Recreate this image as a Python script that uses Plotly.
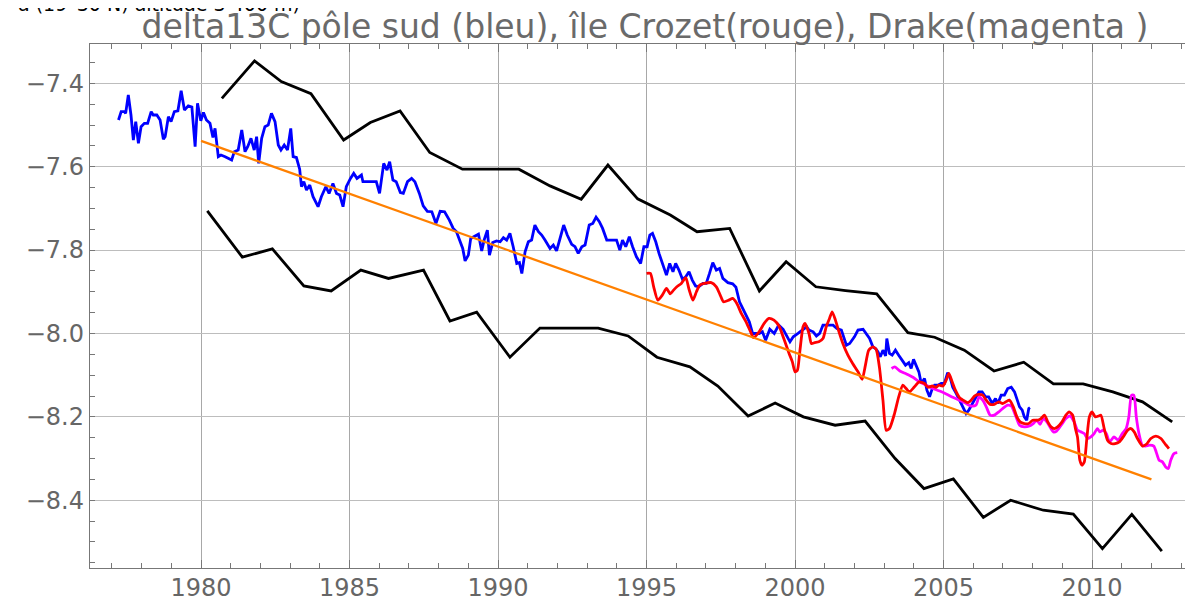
import plotly.graph_objects as go

# ---------------- data ----------------
blue_years = [1977.22,1977.31,1977.42,1977.46,1977.55,1977.64,1977.72,1977.80,1977.89,1977.98,
1978.09,1978.20,1978.32,1978.39,1978.51,1978.62,1978.73,1978.79,1978.90,1978.99,
1979.10,1979.22,1979.33,1979.44,1979.57,1979.69,1979.80,1979.88,1979.99,1980.08,
1980.18,1980.30,1980.40,1980.47,1980.58,1980.67,1980.81,1980.94,1981.03,1981.12,
1981.25,1981.37,1981.48,1981.57,1981.68,1981.79,1981.87,1981.94,1982.04,1982.15,
1982.26,1982.37,1982.49,1982.60,1982.69,1982.80,1982.91,1983.02,1983.10,1983.21,
1983.32,1983.38,1983.46,1983.55,1983.66,1983.77,1983.94,1984.05,1984.20,1984.31,
1984.44,1984.56,1984.67,1984.78,1984.89,1985.03,1985.14,1985.25,1985.40,1985.45,
1985.68,1985.90,1986.01,1986.15,1986.26,1986.35,1986.46,1986.57,1986.71,1986.81,
1986.95,1987.09,1987.20,1987.35,1987.48,1987.62,1987.77,1987.91,1988.05,1988.20,
1988.36,1988.49,1988.60,1988.72,1988.81,1988.89,1989.00,1989.08,1989.19,1989.34,
1989.45,1989.53,1989.64,1989.71,1989.82,1989.95,1990.07,1990.18,1990.29,1990.40,
1990.51,1990.63,1990.72,1990.80,1990.91,1991.02,1991.13,1991.24,1991.36,1991.47,
1991.58,1991.75,1991.86,1991.97,1992.08,1992.21,1992.33,1992.48,1992.59,1992.70,
1992.82,1992.93,1993.07,1993.19,1993.30,1993.41,1993.52,1993.66,1993.83,1993.99,
1994.10,1994.19,1994.30,1994.42,1994.53,1994.66,1994.80,1994.91,1995.02,1995.11,
1995.20,1995.31,1995.42,1995.54,1995.67,1995.78,1995.89,1995.98,1996.09,1996.21,
1996.32,1996.43,1996.54,1996.65,1996.76,1996.90,1997.01,1997.12,1997.23,1997.35,
1997.46,1997.57,1997.74,1997.90,1998.01,1998.13,1998.24,1998.35,1998.46,1998.57,
1998.79,1998.90,1999.01,1999.15,1999.30,1999.45,1999.60,1999.83,1999.94,2000.10,
2000.27,2000.39,2000.47,2000.61,2000.72,2000.83,2000.94,2001.28,2001.41,2001.56,
2001.73,2001.84,2002.00,2002.12,2002.29,2002.40,2002.51,2002.62,2002.71,2002.79,
2002.87,2002.96,2003.05,2003.09,2003.18,2003.27,2003.38,2003.49,2003.61,2003.72,
2003.83,2003.91,2003.99,2004.08,2004.17,2004.25,2004.36,2004.44,2004.53,2004.62,
2004.70,2004.81,2004.92,2005.03,2005.14,2005.23,2005.31,2005.43,2005.54,2005.65,
2005.76,2005.85,2005.97,2006.08,2006.19,2006.30,2006.41,2006.52,2006.64,2006.75,
2006.83,2006.94,2007.05,2007.16,2007.28,2007.39,2007.47,2007.56,2007.65,2007.72,
2007.80,2007.87,2007.91]
blue_values = [-7.488,-7.468,-7.468,-7.472,-7.428,-7.476,-7.536,-7.492,-7.544,-7.504,
-7.496,-7.496,-7.468,-7.476,-7.476,-7.488,-7.534,-7.528,-7.480,-7.492,
-7.468,-7.466,-7.418,-7.464,-7.454,-7.457,-7.552,-7.448,-7.490,-7.470,
-7.488,-7.496,-7.530,-7.508,-7.576,-7.572,-7.576,-7.580,-7.584,-7.564,
-7.560,-7.512,-7.564,-7.552,-7.532,-7.560,-7.528,-7.592,-7.532,-7.504,
-7.500,-7.472,-7.492,-7.548,-7.560,-7.548,-7.560,-7.508,-7.576,-7.578,
-7.606,-7.648,-7.636,-7.656,-7.644,-7.672,-7.696,-7.672,-7.648,-7.664,
-7.640,-7.664,-7.668,-7.696,-7.648,-7.628,-7.616,-7.628,-7.620,-7.636,
-7.636,-7.636,-7.664,-7.592,-7.608,-7.588,-7.632,-7.636,-7.662,-7.664,
-7.636,-7.628,-7.636,-7.664,-7.694,-7.707,-7.708,-7.736,-7.707,-7.708,
-7.728,-7.748,-7.756,-7.780,-7.796,-7.826,-7.812,-7.772,-7.768,-7.762,
-7.802,-7.776,-7.752,-7.812,-7.782,-7.778,-7.780,-7.770,-7.776,-7.760,
-7.792,-7.832,-7.830,-7.856,-7.804,-7.780,-7.776,-7.740,-7.756,-7.764,
-7.776,-7.796,-7.788,-7.802,-7.774,-7.740,-7.764,-7.786,-7.792,-7.808,
-7.792,-7.788,-7.740,-7.736,-7.721,-7.732,-7.748,-7.776,-7.776,-7.776,
-7.800,-7.776,-7.792,-7.768,-7.792,-7.816,-7.832,-7.792,-7.792,-7.764,
-7.760,-7.780,-7.808,-7.832,-7.860,-7.832,-7.852,-7.832,-7.848,-7.870,
-7.864,-7.852,-7.872,-7.886,-7.888,-7.880,-7.880,-7.856,-7.830,-7.848,
-7.844,-7.868,-7.878,-7.881,-7.889,-7.924,-7.940,-7.952,-7.972,-8.000,
-8.000,-7.996,-8.016,-7.990,-8.000,-7.980,-7.990,-8.020,-8.008,-8.000,
-7.990,-7.984,-7.992,-7.996,-8.006,-8.000,-7.980,-7.980,-7.988,-7.992,
-8.028,-8.024,-8.008,-7.992,-7.990,-8.000,-8.012,-8.032,-8.036,-8.044,
-8.056,-8.040,-8.054,-8.012,-8.048,-8.052,-8.040,-8.052,-8.064,-8.076,
-8.070,-8.084,-8.062,-8.076,-8.092,-8.120,-8.108,-8.136,-8.152,-8.132,
-8.124,-8.124,-8.120,-8.120,-8.094,-8.108,-8.129,-8.144,-8.160,-8.172,
-8.192,-8.184,-8.168,-8.152,-8.140,-8.140,-8.152,-8.152,-8.168,-8.156,
-8.168,-8.148,-8.148,-8.132,-8.129,-8.140,-8.160,-8.176,-8.184,-8.200,
-8.208,-8.180,-8.178]

red_years = [1995.00,1995.13,1995.24,1995.38,1995.53,1995.67,1995.80,1995.91,1996.02,1996.17,
1996.32,1996.43,1996.56,1996.68,1996.79,1996.95,1997.18,1997.35,1997.48,1997.59,
1997.77,1997.90,1998.04,1998.19,1998.35,1998.49,1998.60,1998.79,1998.96,1999.12,
1999.29,1999.46,1999.63,1999.80,1999.91,2000.00,2000.08,2000.16,2000.27,2000.34,
2000.47,2000.55,2000.66,2000.80,2000.94,2001.05,2001.16,2001.25,2001.36,2001.48,
2001.61,2001.78,2001.94,2002.12,2002.26,2002.37,2002.48,2002.62,2002.73,2002.84,
2002.96,2003.07,2003.18,2003.35,2003.49,2003.63,2003.74,2003.85,2004.02,2004.18,
2004.36,2004.47,2004.62,2004.75,2004.84,2004.98,2005.09,2005.18,2005.29,2005.40,
2005.54,2005.71,2005.82,2005.93,2006.04,2006.19,2006.32,2006.44,2006.57,2006.71,
2006.86,2006.99,2007.10,2007.22,2007.35,2007.47,2007.58,2007.72,2007.87,2008.00,
2008.17,2008.28,2008.40,2008.51,2008.62,2008.73,2008.84,2008.99,2009.12,2009.23,
2009.35,2009.44,2009.51,2009.59,2009.66,2009.74,2009.82,2009.91,2010.00,2010.11,
2010.22,2010.30,2010.41,2010.52,2010.64,2010.78,2010.92,2011.05,2011.20,2011.31,
2011.42,2011.53,2011.70,2011.84,2011.98,2012.15,2012.32,2012.46,2012.59]
red_values = [-7.856,-7.856,-7.888,-7.920,-7.908,-7.892,-7.905,-7.896,-7.888,-7.880,
-7.866,-7.894,-7.920,-7.900,-7.884,-7.880,-7.878,-7.888,-7.908,-7.924,
-7.920,-7.916,-7.928,-7.952,-7.972,-7.994,-8.010,-7.996,-7.976,-7.964,
-7.968,-7.982,-8.014,-8.048,-8.068,-8.092,-8.088,-8.044,-7.984,-7.976,
-8.000,-8.024,-8.022,-8.020,-8.012,-7.984,-7.964,-7.948,-7.968,-7.996,
-8.024,-8.052,-8.072,-8.092,-8.110,-8.076,-8.040,-8.032,-8.038,-8.080,
-8.160,-8.232,-8.228,-8.192,-8.152,-8.124,-8.132,-8.140,-8.128,-8.116,
-8.120,-8.129,-8.126,-8.129,-8.124,-8.126,-8.112,-8.096,-8.116,-8.136,
-8.154,-8.162,-8.166,-8.160,-8.150,-8.146,-8.148,-8.160,-8.170,-8.170,
-8.164,-8.168,-8.164,-8.160,-8.176,-8.200,-8.212,-8.216,-8.216,-8.208,
-8.208,-8.204,-8.196,-8.212,-8.224,-8.228,-8.224,-8.212,-8.196,-8.188,
-8.196,-8.228,-8.248,-8.304,-8.316,-8.308,-8.256,-8.200,-8.188,-8.200,
-8.198,-8.196,-8.228,-8.256,-8.264,-8.264,-8.260,-8.248,-8.232,-8.228,
-8.236,-8.252,-8.270,-8.265,-8.252,-8.246,-8.252,-8.265,-8.276]

magenta_years = [2003.25,2003.36,2003.53,2003.75,2003.97,2004.19,2004.42,2004.64,2004.87,2005.09,
2005.31,2005.54,2005.76,2005.93,2006.09,2006.20,2006.32,2006.44,2006.57,2006.71,
2006.86,2006.99,2007.16,2007.28,2007.42,2007.56,2007.72,2007.89,2008.02,2008.14,
2008.25,2008.36,2008.48,2008.59,2008.70,2008.81,2008.96,2009.12,2009.26,2009.40,
2009.51,2009.63,2009.74,2009.85,2009.96,2010.07,2010.18,2010.26,2010.37,2010.48,
2010.59,2010.74,2010.88,2011.02,2011.15,2011.24,2011.33,2011.41,2011.49,2011.58,
2011.69,2011.80,2011.94,2012.08,2012.16,2012.26,2012.37,2012.48,2012.57,2012.65,
2012.76,2012.87]
magenta_values = [-8.084,-8.080,-8.090,-8.097,-8.105,-8.116,-8.124,-8.132,-8.138,-8.145,
-8.153,-8.160,-8.168,-8.174,-8.172,-8.152,-8.160,-8.176,-8.196,-8.196,
-8.188,-8.180,-8.172,-8.174,-8.196,-8.220,-8.224,-8.222,-8.216,-8.208,
-8.218,-8.204,-8.212,-8.225,-8.236,-8.234,-8.220,-8.204,-8.198,-8.212,
-8.232,-8.236,-8.240,-8.252,-8.248,-8.240,-8.228,-8.236,-8.232,-8.240,
-8.260,-8.248,-8.256,-8.240,-8.228,-8.200,-8.148,-8.148,-8.200,-8.240,
-8.268,-8.270,-8.268,-8.270,-8.284,-8.304,-8.308,-8.320,-8.324,-8.304,
-8.288,-8.286]

upper_years = [1980.7,1981.8,1982.7,1983.7,1984.8,1985.7,1986.7,1987.7,1988.8,1989.7,
1990.7,1991.75,1992.8,1993.7,1994.7,1995.8,1996.7,1997.8,1998.8,1999.7,
2000.7,2001.7,2002.75,2003.8,2004.7,2005.7,2006.7,2007.7,2008.7,2009.7,
2010.7,2011.7,2012.7]
upper_values = [-7.436,-7.346,-7.396,-7.425,-7.536,-7.494,-7.466,-7.566,-7.606,-7.606,
-7.606,-7.646,-7.678,-7.596,-7.677,-7.716,-7.756,-7.748,-7.898,-7.828,
-7.888,-7.897,-7.905,-7.998,-8.009,-8.040,-8.090,-8.069,-8.121,-8.121,
-8.140,-8.164,-8.212]

lower_years = [1980.21,1981.39,1982.40,1983.46,1984.38,1985.38,1986.31,1987.49,1988.38,1989.28,
1990.40,1991.41,1992.40,1993.37,1994.38,1995.35,1996.46,1997.40,1998.42,1999.33,
2000.28,2001.35,2002.36,2003.37,2004.34,2005.33,2006.34,2007.26,2008.36,2009.37,
2010.35,2011.34,2012.35]
lower_values = [-7.706,-7.817,-7.797,-7.886,-7.898,-7.848,-7.868,-7.848,-7.970,-7.949,
-8.057,-7.987,-7.987,-7.987,-8.006,-8.057,-8.080,-8.126,-8.198,-8.167,
-8.200,-8.220,-8.210,-8.300,-8.372,-8.349,-8.441,-8.400,-8.424,-8.433,
-8.516,-8.434,-8.522]

trend_years = [1980.0, 2012.0]
trend_values = [-7.538, -8.350]

x_tick_vals = [1980, 1985, 1990, 1995, 2000, 2005, 2010]
y_tick_vals = [-8.4, -8.2, -8.0, -7.8, -7.6, -7.4]
y_tick_text = ["\u22128.4", "\u22128.2", "\u22128.0", "\u22127.8", "\u22127.6", "\u22127.4"]

title_text = "delta13C pôle sud (bleu), île Crozet(rouge), Drake(magenta )"
corner_text = "a (19–30 N) altitude 3 400 m)"

# ---------------- figure ----------------
# The page body has an 8px default margin, so the figure is sized to fit
# the 1193x601 window exactly from that offset.
FONT = "DejaVu Sans, Liberation Sans, Arial, sans-serif"
FIG_W, FIG_H = 1185, 593

fig = go.Figure()
fig.add_trace(go.Scatter(x=upper_years, y=upper_values, mode="lines",
                         line=dict(color="black", width=2.8)))
fig.add_trace(go.Scatter(x=lower_years, y=lower_values, mode="lines",
                         line=dict(color="black", width=2.8)))
fig.add_trace(go.Scatter(x=blue_years, y=blue_values, mode="lines",
                         line=dict(color="#0000FF", width=2.8)))
fig.add_trace(go.Scatter(x=magenta_years, y=magenta_values, mode="lines",
                         line=dict(color="#FF00FF", width=2.8, shape="spline", smoothing=0.6)))
fig.add_trace(go.Scatter(x=red_years, y=red_values, mode="lines",
                         line=dict(color="#FF0000", width=2.8, shape="spline", smoothing=0.6)))
fig.add_trace(go.Scatter(x=trend_years, y=trend_values, mode="lines",
                         line=dict(color="#FF8000", width=2.3)))

axis_font = dict(family=FONT, size=24, color="#666666")

fig.update_layout(
    width=FIG_W, height=FIG_H,
    margin=dict(l=82, r=0, t=36, b=33, autoexpand=False),
    paper_bgcolor="white", plot_bgcolor="white",
    showlegend=False,
    title=dict(text=title_text, x=637 / FIG_W, xref="container", xanchor="center",
               y=1 - 18 / FIG_H, yref="container", yanchor="middle",
               font=dict(family=FONT, size=33, color="#6a6a6a")),
    xaxis=dict(range=[1976.26, 2013.40], tickvals=x_tick_vals, automargin=False,
               ticks="inside", ticklen=8, tickwidth=1.3, tickcolor="#777777",
               showline=True, linecolor="#777777", linewidth=1.4, mirror="ticks",
               showgrid=True, gridcolor="#a8a8a8", gridwidth=1.4,
               zeroline=False, tickfont=axis_font, ticklabelstandoff=-2,
               minor=dict(dtick=1, ticks="inside", ticklen=5, tickwidth=1.1,
                          tickcolor="#777777", showgrid=False)),
    yaxis=dict(range=[-8.5625, -7.3057], tickvals=y_tick_vals, ticktext=y_tick_text,
               automargin=False,
               ticks="", showline=True, linecolor="#777777", linewidth=1.4, mirror=False,
               showgrid=True, gridcolor="#bdbdbd", gridwidth=1.4,
               zeroline=False, tickfont=axis_font, ticklabelstandoff=0,
               minor=dict(dtick=0.05, ticks="inside", ticklen=5, tickwidth=1.1,
                          tickcolor="#777777", showgrid=False)),
    annotations=[dict(text=corner_text, xref="paper", yref="paper",
                      x=0, y=1, xanchor="right", yanchor="middle",
                      xshift=212, yshift=40, showarrow=False,
                      font=dict(family=FONT, size=19, color="black"))],
)

fig.write_html("out.html")
